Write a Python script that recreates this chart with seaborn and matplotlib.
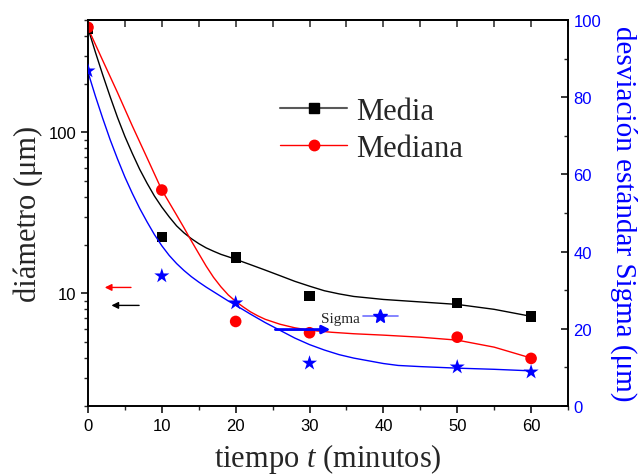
import matplotlib
matplotlib.use("Agg")
import matplotlib.pyplot as plt
import seaborn as sns
from matplotlib.lines import Line2D
from matplotlib.ticker import FixedLocator, FixedFormatter, LogLocator, NullFormatter, MultipleLocator

# measured points
tiempo = [0, 10, 20, 30, 50, 60]
media = [440, 22.5, 16.7, 9.6, 8.7, 7.2]
mediana = [450, 43.9, 6.7, 5.7, 5.35, 3.95]
sigma = [86.8, 33.7, 26.7, 11.1, 10.1, 8.8]

# fitted curves
media_fit_t = [0, 1, 2, 3, 4, 5, 6, 7, 8, 9, 10, 11, 12, 13, 14, 15, 16, 17, 18, 19,
               20, 22, 24, 26, 28, 30, 32, 34, 36, 38, 40, 45, 50, 55, 60]
media_fit = [445, 316, 228, 167, 124, 94.5, 74.2, 59.1, 48.4, 40.3, 34.4, 29.9, 26.3,
             23.8, 21.9, 20.4, 19.2, 18.3, 17.5, 16.9, 16.3, 15.1, 13.97, 12.9, 11.9,
             11.1, 10.4, 9.94, 9.58, 9.38, 9.18, 8.86, 8.55, 7.97, 7.21]

mediana_fit_t = [0, 2, 4, 6, 8, 10, 11, 12, 13, 14, 15, 16, 17, 18, 19, 20, 21, 22, 23,
                 24, 26, 28, 30, 33, 36, 40, 45, 50, 55, 60]
mediana_fit = [445, 280, 177, 110, 69.6, 43.9, 36.7, 30.7, 25.6, 21.2, 17.7, 14.8, 12.6,
               11.0, 9.79, 8.93, 8.26, 7.69, 7.26, 6.91, 6.44, 6.12, 5.91, 5.74, 5.62,
               5.51, 5.35, 5.13, 4.64, 3.97]

sigma_fit_t = [0, 1, 2, 3, 4, 5, 6, 7, 8, 9, 10, 11, 12, 13, 14, 15, 16, 17, 18, 19,
               20, 22, 24, 26, 28, 30, 32, 34, 36, 38, 40, 42, 45, 50, 55, 60]
sigma_fit = [86.5, 80.3, 74.5, 69.0, 64.0, 59.3, 55.1, 51.2, 47.7, 44.4, 41.5, 39.0,
             36.9, 35.1, 33.5, 32.1, 30.8, 29.6, 28.4, 27.2, 26.1, 23.8, 21.6, 19.6,
             17.6, 15.9, 14.5, 13.3, 12.4, 11.7, 11.0, 10.5, 10.2, 9.8, 9.5, 9.1]

sns.set_theme(style="ticks")
plt.rcParams["font.family"] = ["Liberation Sans", "DejaVu Sans"]
plt.rcParams["mathtext.fontset"] = "custom"
plt.rcParams["mathtext.rm"] = "Liberation Serif"
plt.rcParams["mathtext.it"] = "Liberation Serif:italic"
serif = ["Liberation Serif", "DejaVu Serif"]

fig = plt.figure(figsize=(6.44, 4.77), dpi=100)
ax = fig.add_axes([0.1366, 0.1468, 0.7454, 0.8092])
ax2 = ax.twinx()

# left axis: media / mediana (log)
sns.lineplot(x=media_fit_t, y=media_fit, ax=ax, color="black", linewidth=1.0)
sns.lineplot(x=mediana_fit_t, y=mediana_fit, ax=ax, color="#ff0000", linewidth=1.0)
sns.scatterplot(x=tiempo, y=media, ax=ax, marker="s", s=55, color="black", edgecolor="none", zorder=3)
sns.scatterplot(x=tiempo, y=mediana, ax=ax, marker="o", s=70, color="#ff0000", edgecolor="none", zorder=4)

# right axis: sigma (linear)
sns.lineplot(x=sigma_fit_t, y=sigma_fit, ax=ax2, color="#0000ff", linewidth=1.0)
sns.scatterplot(x=tiempo, y=sigma, ax=ax2, marker="*", s=130, color="#0000ff", edgecolor="none", zorder=3)

ax.set_yscale("log")
ax.set_xlim(0, 65)
ax.set_ylim(2, 500)
ax2.set_ylim(0, 100)

ax.yaxis.set_major_locator(FixedLocator([10, 100]))
ax.yaxis.set_major_formatter(FixedFormatter(["10", "100"]))
ax.yaxis.set_minor_locator(LogLocator(base=10, subs=range(2, 10)))
ax.yaxis.set_minor_formatter(NullFormatter())
ax.xaxis.set_major_locator(MultipleLocator(10))
ax.xaxis.set_minor_locator(MultipleLocator(5))
ax2.yaxis.set_major_locator(MultipleLocator(20))
ax2.yaxis.set_minor_locator(MultipleLocator(10))

for a in (ax, ax2):
    for sp in a.spines.values():
        sp.set_linewidth(1.2)
        sp.set_color("black")

ax.tick_params(axis="both", which="major", direction="out", length=5, width=1.1,
               labelsize=12, colors="black", right=False, top=False)
ax.tick_params(axis="both", which="minor", direction="out", length=3, width=1.0,
               right=False, top=False)
ax2.tick_params(axis="y", which="major", direction="in", length=5, width=1.1,
                labelsize=12, labelcolor="#0000ff", color="black", pad=4)
ax2.tick_params(axis="y", which="minor", direction="in", length=3, width=1.0)

top = ax.secondary_xaxis("top")
top.xaxis.set_major_locator(MultipleLocator(5))
top.tick_params(direction="in", length=5, width=1.1, labeltop=False)
top.spines["top"].set_linewidth(1.2)

ax.set_xlabel("tiempo $t$ (minutos)", fontsize=22, family=serif, labelpad=6)
ax.set_ylabel("diámetro (μm)", fontsize=22, family=serif, labelpad=4)
ax2.set_ylabel("desviación estándar Sigma (μm)", fontsize=21, family=serif,
               color="#0000ff", rotation=270, labelpad=26)

# legend for left axis
handles = [
    Line2D([], [], color="0.35", linewidth=1.5, marker="s", markersize=7,
           markerfacecolor="black", markeredgecolor="black"),
    Line2D([], [], color="#ff0000", linewidth=1.0, marker="o", markersize=7.5,
           markerfacecolor="#ff0000", markeredgecolor="#ff0000"),
]
leg = ax.legend(handles, ["Media", "Mediana"], loc="upper left",
                bbox_to_anchor=(0.40, 0.80), frameon=False,
                handlelength=2.2, handletextpad=0.3, labelspacing=0.25,
                borderpad=0, borderaxespad=0, prop={"family": serif, "size": 22})

# sigma key
sig_handle = Line2D([], [], color="#6f6fff", linewidth=1.2, marker="*", markersize=10,
                    markerfacecolor="#0000ff", markeredgecolor="#0000ff")
leg2 = ax2.legend([sig_handle], ["Sigma"], loc="center left",
                  bbox_to_anchor=(0.485, 0.228), frameon=False, markerfirst=False,
                  handlelength=2.3, handletextpad=0.2, borderpad=0, borderaxespad=0,
                  prop={"family": serif, "size": 11})

# arrows pointing to each axis
ax.annotate("", xy=(1.9, 10.9), xytext=(6.2, 10.9),
            arrowprops=dict(arrowstyle="-|>", color="#ff0000", lw=1.0, mutation_scale=10))
ax.annotate("", xy=(2.8, 8.43), xytext=(7.3, 8.43),
            arrowprops=dict(arrowstyle="-|>", color="black", lw=1.0, mutation_scale=10))
ax2.annotate("", xy=(33.2, 19.8), xytext=(25.0, 19.8),
             arrowprops=dict(arrowstyle="-|>", color="#0000ff", lw=2.0, mutation_scale=12))

fig.savefig("out.png", dpi=100)
